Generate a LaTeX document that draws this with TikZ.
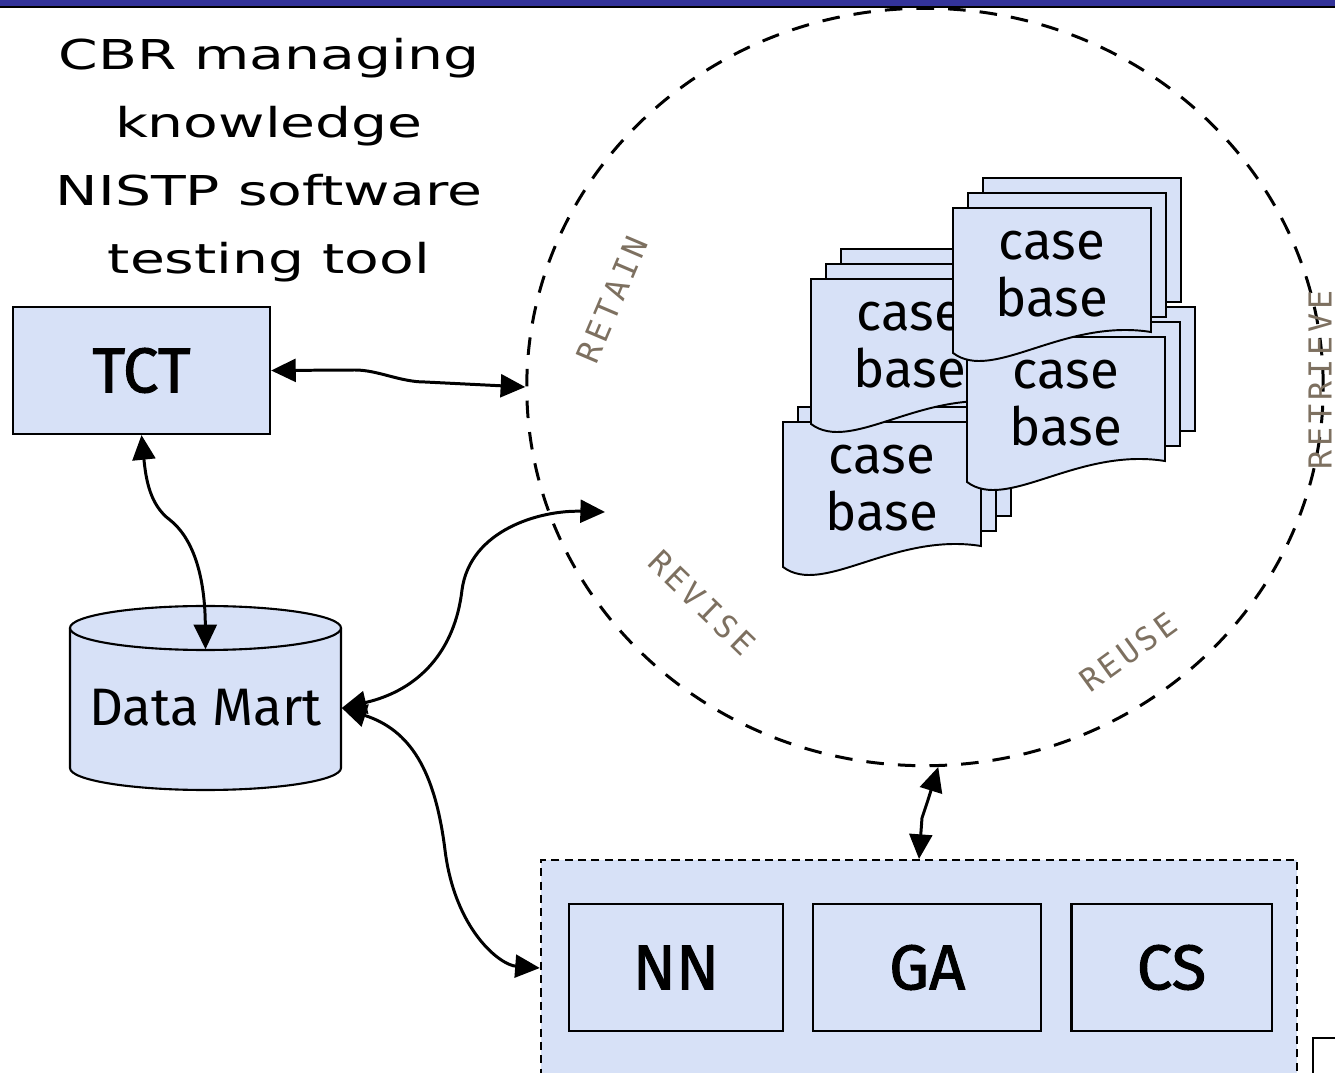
\documentclass[tikz,border=0pt]{standalone}
\usepackage{fontspec}
\setmainfont{DejaVu Sans}
\newfontfamily\titlefont[FakeStretch=1.38]{DejaVu Sans}
\newfontfamily\boxfont{Fira Sans}
\newfontfamily\heavyfont[FakeBold=1.6]{Fira Sans}
\newfontfamily\stagefont[LetterSpace=12]{DejaVu Sans Mono}
\usetikzlibrary{arrows.meta,shapes.geometric,positioning}

\definecolor{boxblue}{RGB}{215,225,247}
\definecolor{barblue}{RGB}{51,51,153}
\definecolor{stagegray}{RGB}{125,112,96}

\tikzset{
  box/.style={draw=black, line width=0.6pt, fill=boxblue, inner sep=0pt,
    font=\heavyfont\fontsize{18}{20}\selectfont},
  algo/.style={draw=black, line width=0.6pt, inner sep=0pt, minimum height=1.27cm,
    font=\heavyfont\fontsize{18}{20}\selectfont},
  modbox/.style={draw=black, line width=0.55pt, fill=boxblue, inner sep=0pt,
    dash pattern=on 2.3pt off 1.5pt},
  drum/.style={draw=black, line width=0.6pt, fill=boxblue},
  sheet/.style={draw=black, line width=0.55pt, fill=boxblue},
  sheettext/.style={align=center, inner sep=0pt,
    font=\boxfont\fontsize{15}{16}\selectfont},
  stage/.style={text=stagegray, inner sep=0pt, font=\stagefont\fontsize{9}{9}\selectfont},
  loopring/.style={ellipse, draw=black, line width=0.85pt, inner sep=0pt,
    dash pattern=on 5pt off 4pt},
  link/.style={line width=0.85pt,
    {Triangle[length=7pt,width=6.5pt]}-{Triangle[length=7pt,width=6.5pt]}},
}

% one stack of case bases: name, left, top
\newcommand{\casestack}[3]{%
  \begin{scope}[shift={(#2,#3)}]
    \filldraw[sheet] (30,-30) rectangle (228,94);
    \filldraw[sheet] (15,-15) rectangle (213,109);
    \filldraw[sheet] (0,0) -- (198,0) -- (198,124)
      .. controls (110,110) and (40,175) .. (0,145) -- cycle;
    \node[sheettext] (#1) at (99,66) {case\\base};
  \end{scope}}

\begin{document}
\begin{tikzpicture}[x=0.01cm, y=-0.01cm]
  \useasboundingbox (0,0) rectangle (1335,1073);
  \clip (0,0) rectangle (1335,1073);

  \node[align=center, inner sep=0pt,
    font=\titlefont\fontsize{11.7}{19.35}\selectfont] (title) at (269,160)
    {CBR managing\\knowledge\\NISTP software\\testing tool};

  % the CBR cycle
  \node[loopring, minimum width=7.96cm, minimum height=7.57cm] (cbr) at (925,387) {};
  \node[stage, rotate=67]  (retain)   at (612,300)  {RETAIN};
  \node[stage, rotate=90]  (retrieve) at (1320,380) {RETRIEVE};
  \node[stage, rotate=-44] (revise)   at (702,603)  {REVISE};
  \node[stage, rotate=36]  (reuse)    at (1128,652) {REUSE};

  \casestack{baseC}{783}{422}
  \casestack{baseB}{811}{279}
  \casestack{baseD}{967}{337}
  \casestack{baseA}{953}{208}

  \node[box, minimum width=2.57cm, minimum height=1.27cm] (tct) at (141.5,370.5) {TCT};

  % data mart drum
  \filldraw[drum] (70,628) -- (70,768)
    arc[start angle=180, end angle=0, x radius=135.5, y radius=22]
    -- (341,628);
  \filldraw[drum] (205.5,628) ellipse [x radius=135.5, y radius=22];
  \node[inner sep=0pt, minimum width=2.71cm, minimum height=1.16cm,
    font=\boxfont\fontsize{15}{16}\selectfont] (mart) at (205.5,708) {Data Mart};

  % techniques
  \node[modbox, minimum width=7.56cm, minimum height=2.16cm] (mods) at (919,968) {};
  \node[algo, minimum width=2.14cm] (nn) at (676,967.5) {NN};
  \node[algo, minimum width=2.28cm, right=0.28cm of nn] (ga) {GA};
  \node[algo, minimum width=2.00cm, right=0.28cm of ga] (cs) {CS};
  \draw[line width=0.85pt] (1313,1080) -- (1313,1038) -- (1340,1038);

  \coordinate (revisein) at (605,512);
  \draw[link] (tct.east) -- (355,370) .. controls (378,370) and (400,382) .. (425,382)
    -- (cbr.west);
  \draw[link] (tct.south) .. controls (146,480) and (150,505) .. (170,520)
    .. controls (195,540) and (205,580) .. (mart.north);
  \draw[link] (mart.east) .. controls (420,690) and (455,650) .. (462,590)
    .. controls (470,530) and (540,510) .. (revisein);
  \draw[link] (mart.east) .. controls (410,730) and (435,770) .. (445,850)
    .. controls (455,930) and (500,965) .. (mods.west);
  \draw[link] (cbr.-88) -- (928,800) -- (922,818) -- (mods.north);

  % title bar
  \fill[barblue] (0,0) rectangle (1335,6);
  \fill[black] (0,6) rectangle (1335,8);
\end{tikzpicture}
\end{document}
